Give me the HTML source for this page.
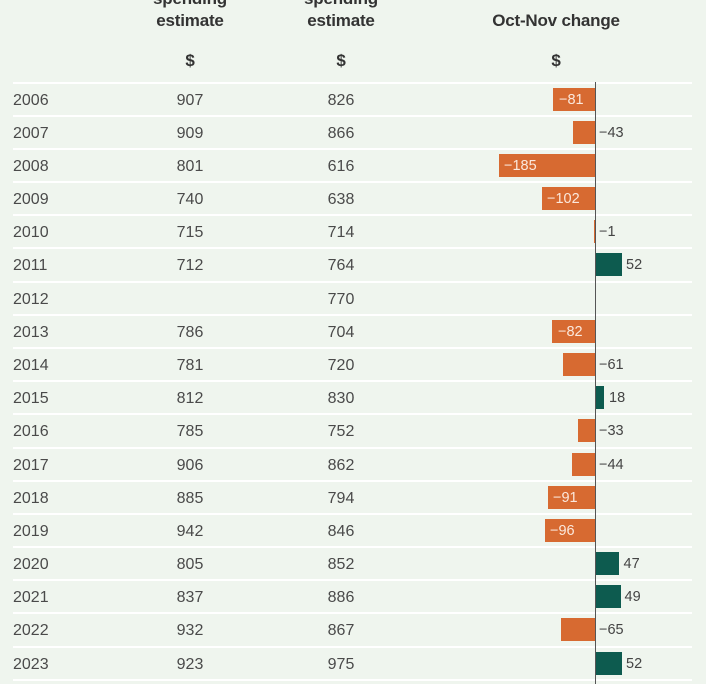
<!DOCTYPE html>
<html><head><meta charset="utf-8">
<style>
html,body{margin:0;padding:0;}
body{width:706px;height:684px;background:#eff5ee;position:relative;overflow:hidden;font-family:"Liberation Sans",Arial,sans-serif;}
.h{position:absolute;font-weight:bold;font-size:17px;line-height:22px;color:#333;text-align:center;white-space:nowrap;letter-spacing:-0.2px;}
.sep{position:absolute;left:13px;width:679px;height:2px;background:#ffffff;}
.row{position:absolute;left:0;width:706px;height:33px;line-height:35px;font-size:16px;color:#4a4a4a;}
.row span{position:absolute;top:0;white-space:nowrap;}
.yr{left:13px;}
.c1{left:150px;width:80px;text-align:center;}
.c2{left:301px;width:80px;text-align:center;}
.bar{position:absolute;top:5px;height:23px;}
.neg{background:#d76a31;}
.pos{background:#0d5b4f;}
.row span.in{color:#fbe8dc;font-size:14.5px;line-height:34px;}
.row span.out{color:#444;font-size:14.5px;line-height:34px;}
.axis{position:absolute;left:594.5px;width:1.2px;top:82px;height:602px;background:#555;}
</style></head><body>

<div class="h" style="left:130px;width:120px;top:-12px;">spending</div>
<div class="h" style="left:130px;width:120px;top:10px;">estimate</div>
<div class="h" style="left:281px;width:120px;top:-12px;">spending</div>
<div class="h" style="left:281px;width:120px;top:10px;">estimate</div>
<div class="h" style="left:456px;width:200px;top:10px;">Oct-Nov change</div>
<div class="h" style="left:150px;width:80px;top:50px;">$</div>
<div class="h" style="left:301px;width:80px;top:50px;">$</div>
<div class="h" style="left:516px;width:80px;top:50px;">$</div>

<div class="sep" style="top:81.5px"></div>
<div class="sep" style="top:114.7px"></div>
<div class="sep" style="top:147.9px"></div>
<div class="sep" style="top:181.1px"></div>
<div class="sep" style="top:214.2px"></div>
<div class="sep" style="top:247.4px"></div>
<div class="sep" style="top:280.6px"></div>
<div class="sep" style="top:313.8px"></div>
<div class="sep" style="top:346.9px"></div>
<div class="sep" style="top:380.1px"></div>
<div class="sep" style="top:413.3px"></div>
<div class="sep" style="top:446.5px"></div>
<div class="sep" style="top:479.7px"></div>
<div class="sep" style="top:512.8px"></div>
<div class="sep" style="top:546px"></div>
<div class="sep" style="top:579.2px"></div>
<div class="sep" style="top:612.4px"></div>
<div class="sep" style="top:645.6px"></div>
<div class="sep" style="top:678.7px"></div>

<div class="row" style="top:82.5px"><span class="yr">2006</span><span class="c1">907</span><span class="c2">826</span><div class="bar neg" style="left:552.9px;width:42.1px"></div><span class="in" style="left:559px">−81</span></div>
<div class="row" style="top:115.7px"><span class="yr">2007</span><span class="c1">909</span><span class="c2">866</span><div class="bar neg" style="left:572.6px;width:22.4px"></div><span class="out" style="left:599px">−43</span></div>
<div class="row" style="top:148.9px"><span class="yr">2008</span><span class="c1">801</span><span class="c2">616</span><div class="bar neg" style="left:498.8px;width:96.2px"></div><span class="in" style="left:504px">−185</span></div>
<div class="row" style="top:182px"><span class="yr">2009</span><span class="c1">740</span><span class="c2">638</span><div class="bar neg" style="left:542px;width:53px"></div><span class="in" style="left:547px">−102</span></div>
<div class="row" style="top:215.2px"><span class="yr">2010</span><span class="c1">715</span><span class="c2">714</span><div class="bar neg" style="left:594.4px;width:0.6px"></div><span class="out" style="left:599px">−1</span></div>
<div class="row" style="top:248.4px"><span class="yr">2011</span><span class="c1">712</span><span class="c2">764</span><div class="bar pos" style="left:595px;width:27px"></div><span class="out" style="left:626px">52</span></div>
<div class="row" style="top:281.6px"><span class="yr">2012</span><span class="c2">770</span></div>
<div class="row" style="top:314.8px"><span class="yr">2013</span><span class="c1">786</span><span class="c2">704</span><div class="bar neg" style="left:552.4px;width:42.6px"></div><span class="in" style="left:558px">−82</span></div>
<div class="row" style="top:347.9px"><span class="yr">2014</span><span class="c1">781</span><span class="c2">720</span><div class="bar neg" style="left:563.3px;width:31.7px"></div><span class="out" style="left:599px">−61</span></div>
<div class="row" style="top:381.1px"><span class="yr">2015</span><span class="c1">812</span><span class="c2">830</span><div class="bar pos" style="left:595px;width:9.4px"></div><span class="out" style="left:609px">18</span></div>
<div class="row" style="top:414.3px"><span class="yr">2016</span><span class="c1">785</span><span class="c2">752</span><div class="bar neg" style="left:577.8px;width:17.2px"></div><span class="out" style="left:599px">−33</span></div>
<div class="row" style="top:447.5px"><span class="yr">2017</span><span class="c1">906</span><span class="c2">862</span><div class="bar neg" style="left:572.1px;width:22.9px"></div><span class="out" style="left:599px">−44</span></div>
<div class="row" style="top:480.7px"><span class="yr">2018</span><span class="c1">885</span><span class="c2">794</span><div class="bar neg" style="left:547.7px;width:47.3px"></div><span class="in" style="left:553px">−91</span></div>
<div class="row" style="top:513.8px"><span class="yr">2019</span><span class="c1">942</span><span class="c2">846</span><div class="bar neg" style="left:545.1px;width:49.9px"></div><span class="in" style="left:550px">−96</span></div>
<div class="row" style="top:547px"><span class="yr">2020</span><span class="c1">805</span><span class="c2">852</span><div class="bar pos" style="left:595px;width:24.4px"></div><span class="out" style="left:623.5px">47</span></div>
<div class="row" style="top:580.2px"><span class="yr">2021</span><span class="c1">837</span><span class="c2">886</span><div class="bar pos" style="left:595px;width:25.5px"></div><span class="out" style="left:624.5px">49</span></div>
<div class="row" style="top:613.4px"><span class="yr">2022</span><span class="c1">932</span><span class="c2">867</span><div class="bar neg" style="left:561.2px;width:33.8px"></div><span class="out" style="left:599px">−65</span></div>
<div class="row" style="top:646.6px"><span class="yr">2023</span><span class="c1">923</span><span class="c2">975</span><div class="bar pos" style="left:595px;width:27px"></div><span class="out" style="left:626px">52</span></div>

<div class="axis"></div>
</body></html>
